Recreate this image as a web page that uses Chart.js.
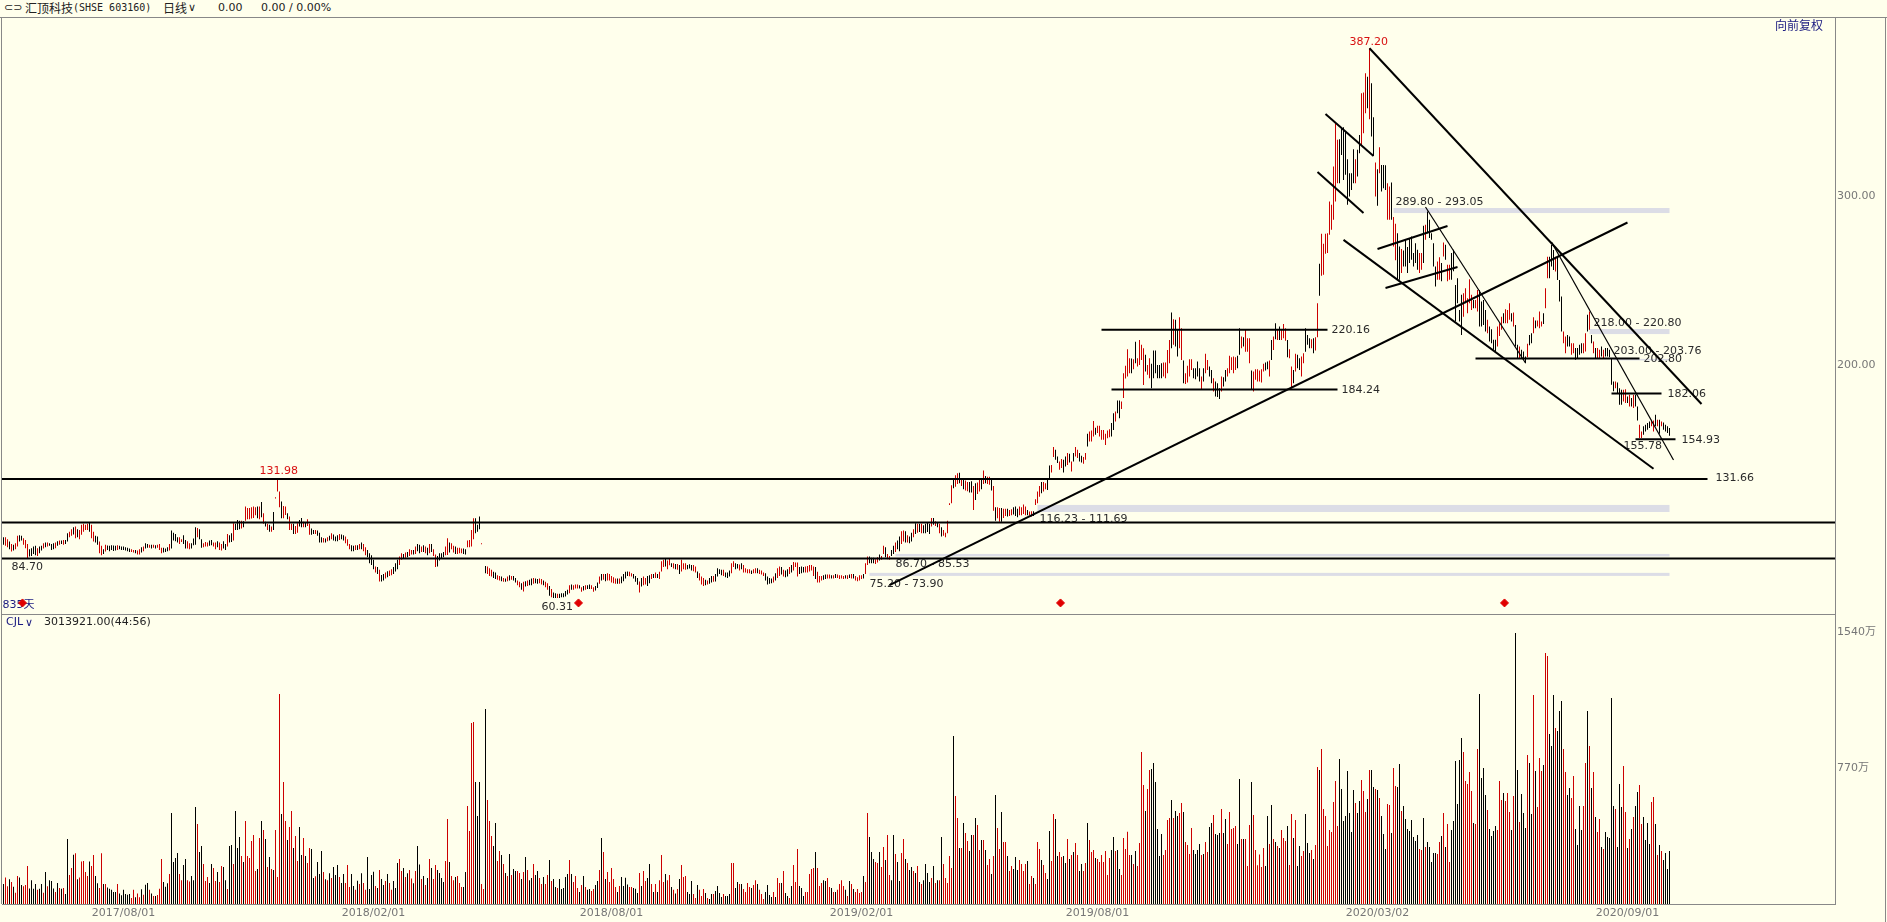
<!DOCTYPE html>
<html>
<head>
<meta charset="utf-8">
<title>汇顶科技</title>
<script src="https://cdn.jsdelivr.net/npm/chart.js@4/dist/chart.umd.min.js"></script>
<style>
  html, body { margin: 0; padding: 0; background: #ffffec; overflow: hidden; }
  #page { position: relative; width: 1887px; height: 922px; font-family: "DejaVu Sans", "Noto Sans CJK SC", sans-serif; font-size: 11px; color: #222; }
  #priceChart { position: absolute; left: 0; top: 17px; }
  #volumeChart { position: absolute; left: 0; top: 614px; }
  .rule { position: absolute; background: #888; }
  .text { position: absolute; white-space: pre; line-height: 14px; }
  .cjk { font-family: "Noto Sans CJK SC", sans-serif; font-size: 12px; }
  .navy { color: #1a1a80; }
</style>
</head>
<body>
<div id="page">
  <canvas id="priceChart" width="1887" height="597"></canvas>
  <canvas id="volumeChart" width="1887" height="308"></canvas>
  <div class="rule" style="left:0;top:17px;width:1887px;height:1px"></div>
  <div class="rule" style="left:1px;top:17px;width:1px;height:887px"></div>
  <div class="rule" style="left:1px;top:614px;width:1834px;height:1px"></div>
  <div class="rule" style="left:1885px;top:17px;width:1px;height:905px"></div>
  <div class="text" style="left:4px;top:1px">⊂⊃</div>
  <div class="text cjk" style="left:25px;top:1px">汇顶科技</div>
  <div class="text" style="left:73px;top:1px;font-size:10px;font-family:'DejaVu Sans Mono'">(SHSE 603160)</div>
  <div class="text cjk" style="left:163px;top:1px">日线</div>
  <div class="text" style="left:188px;top:1px">∨</div>
  <div class="text" style="left:218px;top:1px">0.00</div>
  <div class="text" style="left:261px;top:1px">0.00 / 0.00%</div>
  <div class="text cjk navy" style="left:1775px;top:18px">向前复权</div>
  <div class="text navy" style="left:6px;top:615px">CJL</div>
  <div class="text navy" style="left:25px;top:616px">∨</div>
  <div class="text" style="left:44px;top:615px">3013921.00(44:56)</div>
</div>
<script>
// daily highs and lows, one list per stretch of the chart
const highsA = [98.1,98.1,96.9,95.5,94.1,93.6,94.5,98.9,99.3,98.9,97.5,96.5,94.1,91,91.6,92.6,93,91.6,92.6,93,94.5,94.9,94.9,94.5,94.1,94.5,94.9,95.7,96.1,96.1,96.5,96.5,100.5,101.4,102.8,104,104.4,102.8,102.4,105.4,106,105.4,106,106.8,105.4,101.4,98.9,98.5,95.5,93,91,93.6,93.2,93,93.4,93.2,93,93.4,93,92.6,92.6,92.2,91.8,91.4,91,90.6,90.6,90.2,91,92.2,92.6,94.5,94.1,93.7,93.7,93.7,93.4,93.7,94.1,91.8,91.8,91.4,92.2,94.1,102,100.8,100,98.1,98.1,96.9,99.3,96.5,95.7,94.5,94.5,97.3,104,103.6,102.8,96.9,94.5,95.3,94.9,96.1,96.5,94.9,94.9,95.7,94.9,94.1,95.7,94.1,100,99.3,100.5,106.4,106,108.3,107.9,107.9,107.5,116.2,115.4,115.4,115.8,116.2,115.8,116.2,116.2,119,112.3,107.3,106,105.4,104.4,113,121.7,132.4,125.1,119.2,116.6,116.2,112.3,110.3,106,106,104.8,106.4,108.3,109.5,107.2,106.8,108.7,106,103.2,102.4,102.4,102,100.8,98.1,97.7,97.3,98.1,98.9,100.5,99.7,98.5,99.3,100,99.7,99.3,98.5,96.9,94.1,93.4,93,93.4,93.4,94.1,94.9,94.1,92.2,90.6,88.6,87.4,84.7,80.7,80.4,78.8,75.8,76.4,77.2,78,78.4,79.2,80.4,82.7,84.7,86.7,88.6,88.2,89,89.4,91,90.6,90.6,92.6,94.1,93.7,92.6,93.4,92.6,91.8,94.1,94.1,91,87.8,87,88.6,88.6,89.4,92.6,97.5,94.9,94.5,93,92.6,91.8,91.8,91.4,91.4,91,96.1,96.5,102.4,109.3,109.3,105.4,110.3,94.5,null,81.1,80.7,79.8,78.8,77.6,77.2,75.6,75.2,74.8,74,73.7,74.8,75.6,75.2,75.2,74,72.5,71.7,70.9,71.7,72.1,72.5,72.9,73.7,74,73.7,73.3,73.7,73.3,72.5,71.7,70.9,69.3,67.4,65.4,65,64.6,64.6,65,65,66.2,67,69.7,70.1,69.7,70.1,70.1,69.7,68.5,69.3,69.7,69.7,70.1,69.7,68.5,69.3,71.3,74.8,76.4,76.4,76.4,76.8,76.4,75.2,74.4,73.7,73.7,73.7,74.8,76.4,77.6,77.8,77.6];
const lowsA = [93.6,93,92.2,91,89.6,90.2,91,92.6,95.5,96.1,93.6,91.6,85.7,86.7,87,88.2,87.4,87,88.6,90.2,91.4,92.2,92.6,93,90.6,91,91.6,93,93.7,94.1,93.6,94.1,95.5,98.1,98.9,99.7,97.5,98.1,96.9,99.5,101.4,102.4,102.4,101.4,97.5,95.5,94.9,93.6,88.6,87.4,88.2,89.6,90.6,89.8,90.6,90,90.2,90.6,91,90.6,90.6,90.2,89.8,89.4,89.4,89,88.6,87.8,87.8,89,89.8,91.4,91.8,91.8,91.4,91.8,91.4,91.8,90.6,88.6,89,89.4,89.8,90.2,91.4,96.1,95.7,94.9,94.1,95.3,94.1,91.4,91.4,91,91.4,93.4,93.7,98.1,96.9,91.8,92.2,92.6,92.6,93,93.4,92.6,91,92.2,90.6,90.2,91.4,90.6,92.6,94.9,95.3,96.1,102.4,102.4,102.8,103.2,104,107.9,108.7,108.7,109.1,109.5,111.1,109.3,108.7,109.9,106,104.4,102.4,101.4,101.4,102.4,121,125.1,115.8,109.3,109.3,111.3,108.7,102.4,102.4,100,100,100.8,104.4,104,104,104,104.8,99.5,99.5,100,100,98.9,94.9,94.9,94.9,94.9,95.7,96.1,96.9,96.1,95.7,95.7,96.5,96.9,96.1,94.5,93,91,89.8,89.8,90.6,90.6,91,91,89.8,87.4,86.3,82.7,81.7,79.2,77.2,76.4,71.9,71.9,72.5,73.7,74.4,75.2,75.6,76.4,77.8,79.2,81.7,84.7,85.5,85.9,86.3,87,87.8,87.8,88.2,89.8,88.6,89.4,89.4,88.6,87.4,88.6,89.4,87,80.4,80.7,84.3,85.5,86.3,87.4,87.6,89,91,89,88.2,88.2,88.6,88.6,88.2,87.8,92.2,92.2,92.6,96.9,100.5,101.4,102.8,94,null,76.8,76.4,75.2,74.8,74,73.3,72.9,72.5,72.1,71.7,71.7,72.1,72.5,72.9,72.5,71.3,69.7,68.5,67,66,68.9,69.3,69.7,69.7,70.5,70.9,70.5,70.9,70.1,69.7,68.5,67,63.4,62.6,62.2,62.2,62.2,62.2,62.6,62.6,63,64.2,65,67,67,67.8,67.8,67.8,65.8,66.6,67,67.4,67.4,67.4,65.8,66.6,68.1,70.5,72.5,72.9,72.1,72.5,72.5,71.3,70.9,70.5,70.5,70.5,70.9,72.1,73.7,75.2,75];
const highsB = [76.8,76.4,75.2,73.9,71.9,74,74.8,74,75.2,75.6,76.4,76.4,77.2,76.4,77.6,83.9,84.7,85.5,84.3,85.5,82.7,82.7,82.3,82.3,81.7,84.7,82.7,82.7,81.7,82.1,81.7,81.7,80.7,77.8,76.8,74.8,74,72.9,72.5,73.9,75.2,75.2,76.4,79.8,79.2,78.8,78.8,77.2,77.2,78.4,82.7,83.9,82.7,82.3,81.9,82.7,81.7,79.8,79.2,79.2,78.4,79.2,79.8,79.8,78.8,78.4,77.2,76.8,74.8,73.9,73.7,74.8,76.8,79.8,80.7,80.4,78.8,78.4,79.2,80.4,81.7,83.5,83.1,83.1,80.4,80.7,80.4,80.7,81.1,81.7,81.7,80.7,80.4,77.6,75.2,75.2,75.6,76,76,76,75.6,75.6,76.4,76,75.6,75.6,75.2,75.6,75.6,76,76.4,76.4,75.2,74.4,75.6,75.6,76.4,82.7,86.7,86.7,85.9,85.9,85.1,86.3,87.8,87,93,92.2,88.2,87,90.6,93,94.9,96.1,98.5,101.6,102,101.6,99.3,98.5,100.8,102.8,106.4,106,106,106,105.2,106,106.8,106,109.5,109.5,107.5,106.8,106,104,102.4,100.8,107.9,118.2,128.8,132.8,134.7,135.9,136.3,132.4,132,131.6,130.8,130.8,131.2,128.4,130,130.4,132.4,133.2,137.5,134.3,133.9,133.9,132.8,128.4,115.8,115.8,115.4,115.4,115,115,115,114.2,114.6,115.8,116.2,115,116.2,115.8,117.4,116.2,114.2,113.3,113.5,113.5,120.6,125.1,128.4,130.8,130.8,130,133,140.6];
const lowsB = [74.8,73.7,71.7,69.9,65.4,68.9,69.7,70.1,69.3,70.9,73.3,74,74,74,73.3,77.8,80.4,80.7,79.2,81.5,80.4,79.6,79.2,78.8,76.4,77.8,79.2,78.8,79.2,79.6,78.4,78,77.2,73.9,72.5,70.1,69.3,69.7,70.1,70.5,71.3,71.7,71.9,74.8,76.4,75.6,75.2,74.4,73.9,74.8,76.8,80.4,79.2,79.6,78.4,79.2,77.2,77.2,76.8,76.8,76.4,76.8,76.8,76.8,76.4,76,75.2,72.5,70.1,70.5,70.9,71.3,72.5,73.9,75.2,76,74.8,74.4,74.8,76.4,77.2,78.4,80.4,74.8,76.4,76.8,77.2,77.2,77.2,77.8,78.4,75.2,73.3,71.3,71.3,72.5,72.9,73.3,73.7,73.7,73.7,73.7,74,74,73.3,73.7,73.3,73.7,73.3,74,73.7,73.7,72.5,72.1,72.5,73.3,73.7,76.4,81.7,82.7,82.7,82.7,82.3,83.1,84.3,84.7,88.2,86.3,85.1,84.7,87,88.2,89.4,91,89.8,94.1,95.5,94.9,94.9,94.5,95.5,98.1,100,100.8,101.2,100.5,100.5,100.5,101.2,100,104.4,105.4,104.8,104,100.5,98.5,98.9,98.1,100.5,117.2,118.2,127,128,129.6,130,128.4,126.5,125.7,125.3,124.5,124.5,114.2,120.1,123.7,125.1,126.5,129.6,130,129.6,129.2,125.7,113.8,107.9,109.3,107.3,107.3,109.5,110.7,110.3,110.7,111.1,111.5,110.7,109.9,111.1,111.1,111.9,111.1,111.1,111.1,110.3,110.7,117.2,118.2,122.1,124.1,125.1,126.5,126.1,132];
const highsC = [140.8,151.4,149.8,145.9,142.9,144.3,143.9,145.9,147.9,147.5,142.9,147.9,151.4,149.8,147.9,146.3,145.5,147.9,159.3,160.7,161.3,166.8,162.8,164,164,161.6,161.6,159.3,161.3,162,165.6,171.5,172.5,179,179,178.4,195.1,199.5,209.3,204,203.8,203.4,213.7,204,214.8,211.9,209.9,206,200,204,200.7,208.5,208.5,200,200,201,201.4,201.4,208.9,214.8,231,227,226.7,220.8,228.2,221.7,202.6,195.1,199.5,203.4,203.4,198.1,198.1,202,198.1,193.2,198.1,206.6,203,199.1,197.1,192.2,190.2,189.2,186.3,193.2,192.8,197.1,198.1,205.4,204.6,205,204.6,205.4,221.7,216.8,216.4,220.8,215.8,215.8,196.7,196.1,197.5,197.5,196.7,197.5,200.7,201.4,202,202.6,214.8,216.8,224.7,220.8,222.7,220.8,224.3,221.7,214.8,209.3,199.1,197.1,206.6,206,204,205,207,221.7,217.8,215.8,215.2,215.8,216.4,236.5];
const lowsC = [136.4,145.5,143.9,142,138,139,136.4,140,140.8,142.3,137,142.9,145.9,144.9,142.9,142.3,141.6,143.9,151.8,154.8,154.8,157.7,158.7,159.7,157.7,155.7,155.7,152.6,156.7,157.3,157.7,161.6,166.6,171.5,168.5,173.9,180.4,192,193.2,195.1,195.1,197.5,201,199.1,200,203,188.2,196.1,194.2,192.2,186.3,192.2,195.1,192.2,192.2,192.2,193.2,192.2,195.1,201,209.9,211.9,210.9,205,209.9,203,189.2,188.8,189.6,193.2,197.1,192.2,191.6,193.2,190.2,185.3,190.2,195.1,197.1,193.2,189.2,184.3,181.3,181,179.8,184.3,187.3,190.2,193.2,195.1,197.1,195.1,197.1,198.1,206,209.9,210.9,207.9,207.9,201,185.3,184.3,191.2,190.2,190.2,189.6,196.1,196.7,197.5,193.2,203,208.9,215.2,214.8,214.8,214.8,215.8,214.4,204.6,204,186.3,189.2,196.1,198.1,197.1,193.2,201,207.9,211.9,209.9,209.9,207,208.5,216.4];
const highsD = [259.9,277.6,271.7,277.6,278,296.7,294.8,317.4,343,333.2,333.6,340.1,340.7,338.1,321.8,313.5,313.5,327.7,321.8,327.3,336.1,360.8,361.2,372.6,370.6,387.4,366.7,346.6,319.8,315.8,328.8,318.4,318.4,318.2,307.6,305.6,308,287.5,283.5,278,270.1,268.6,267.8,274.1,269.8,275,276,266.2,272.1,268.2,266.2,266.2,282.4,283,290.8,285.9,278,272.1,258.3,261.3,263.8,260.3,272.5,271.1,259.3,259.3,266.2,268.2];
const lowsD = [241,252.8,253.4,265.8,266.2,277,280,285.9,296.7,307.6,307.6,324.3,309.5,312.5,294.8,299.7,303.6,307.6,307.6,311.5,325.3,330.2,337.1,349,351.9,345.4,335.2,323.7,299.7,294.2,313.5,302.6,304.6,303.6,285.9,285.9,285.9,270.1,261.9,250.4,250.4,254.4,258.3,258.3,254.4,260.3,262.3,258.3,260.3,256.3,254.4,256.3,260.3,274.1,278,275.1,274.1,258.3,246.5,250.4,250.4,249.5,264.2,262.3,249.5,250.4,250.4,255.4];
const highsE = [247.4,251.3,232.6,241.5,242.4,245.4,239.5,250.7,241.5,238.5,238.5,244.4,244.4,237.5,238.5,232.6,226.7,222.7,221.2,214.9,214.9,222.7,224.7,228.6,230.6,233,232.6,236.5,230.6,231,223.7,211.9,210.9,209,208,205,212.5,217.8,218.8,228.3,226.3,226.3,231.6,225.7,230.6,245.4,264.1,264.1,271,268,264.1,264.1,250.3,240.5,219.8,216.8,217.8,216.8];
const lowsE = [225.7,236.5,225.7,217.8,228.6,236.5,230.6,236.5,232.6,233.6,233.6,231.6,222.7,222.7,223.7,219.8,218.8,213.9,212.9,209,208,210.9,217.2,220.8,224.7,224.7,224.7,226.7,225.7,222.7,210.9,204,204,204,203,201.1,204.6,211.7,212.9,218.8,221.8,222.7,221.8,222.7,224.3,233.6,251.3,251.3,258.2,256.2,255.3,250.3,237.5,219.8,212.9,207,210.9,210.9];
const highsF = [212.9,212.9,210,210,211.9,212.9,212.9,218.8,229.7,231.6,217.8,213.9,210,210,209,211,209,210,210,209,203.5,190.3,190.3,189.7,186.3,185.3,185.3,185.7,181.4,182.4,180.4,182.4,182.4,175.5,164.7,160.7,163.7,164.7,165.6,166.6,167.6,167.2,170.6,167.6,167.6,166.6,166,164.7,163.7,162.7];
const lowsF = [206,207,203.1,204.1,206,207,207,208,219.8,220.8,212.9,207,204.1,204.1,204.1,205,204.1,205,205,204.6,188.3,184.4,186.3,183.4,176.5,176.5,178.4,177.5,177.5,175.5,175.5,174.5,175.5,167.2,156.8,156.8,158.7,160.7,161.7,162.7,163.7,160.7,163.7,163.7,159.3,163.7,161.7,160.7,159.7,158.2];
const priceStarts = [0, 314, 524, 658, 726, 784];

// volume in 万 shares
const volumesA = [113,150,100,140,125,98,64,158,150,107,100,107,215,88,135,86,113,80,86,113,64,181,100,135,130,88,68,119,90,86,90,56,368,164,204,279,287,140,150,240,243,181,158,240,215,277,158,117,90,287,113,113,94,86,80,68,68,113,60,49,80,56,53,56,34,80,38,60,38,83,53,109,119,80,60,45,45,51,86,255,125,98,117,170,515,238,260,289,170,135,221,255,135,128,158,135,549,453,294,328,226,130,153,119,226,204,130,181,125,215,209,135,85,328,334,226,526,317,379,272,238,470,272,260,357,390,187,198,374,470,419,368,209,266,198,192,419,153,1189,510,691,470,362,436,526,317,385,243,436,277,374,272,232,317,311,147,157,238,170,300,181,140,135,174,147,209,164,221,153,119,170,119,221,96,170,102,80,132,113,174,119,80,266,85,164,183,102,90,192,142,107,130,170,119,80,130,90,232,255,187,204,153,174,192,145,117,187,328,224,142,158,107,147,255,204,142,221,192,175,147,125,243,481,238,158,135,153,158,119,96,96,181,555,413,1025,1030,691,498,691,113,85,1104,589,470,385,328,459,243,300,277,226,175,158,283,164,198,187,187,175,142,181,266,192,135,147,226,164,187,147,113,153,113,164,249,130,142,96,90,142,85,90,153,170,249,170,125,158,90,68,107,158,96,80,85,74,85,107,130,192,374,294,142,181,125,204,142,96,68,102,153,102,149,110,96];
const volumesB = [96,90,86,62,175,102,187,130,147,226,113,68,113,68,135,277,125,170,135,164,96,80,60,85,142,221,153,158,68,56,130,56,34,107,80,45,85,62,34,28,56,56,74,102,62,40,56,45,45,56,232,232,90,125,113,113,85,68,119,96,90,107,135,113,80,56,28,68,107,51,40,68,40,147,119,119,187,62,45,34,102,221,125,311,102,90,45,68,68,170,198,204,294,204,102,119,135,130,147,96,90,68,68,80,113,135,102,80,45,130,113,85,68,85,62,68,158,125,515,379,294,255,238,232,294,209,323,249,390,164,135,390,283,238,130,289,368,255,232,192,209,187,175,215,125,113,135,226,175,125,147,215,119,135,135,379,226,147,119,272,204,951,611,487,317,317,459,402,357,300,390,390,487,447,306,362,362,306,221,255,170,272,617,430,311,521,351,351,272,187,215,198,266,192,249,226,187,226,243,113,158,147,113,351,311,249,221,175,142,413,243,510,481,272,294,266,272,232,368,255,277,294,345,277,187,226,187,232,459,362,294,306,260,255,238,277,238,300,164,260,306,379,300,306,198,164,374,311,409,277,277,226,300,215,345,860,674,526,651,759,764,798,691,425,272,396,277,306,476,487,589,487,526,498,515,572,521,351,334,283,430,306,283,306,340,277,283,351,294,436,459,504,396,390,402,538,402,481,340,521,425,430,442,340,708,368,368,368,215,447,691,504,306,219,280];
const volumesC = [209,317,215,498,340,560,368,351,328,317,419,374,357,442,221,510,374,476,215,328,272,300,510,345,289,306,255,334,776,759,877,538,498,328,419,408,577,696,442,821,651,470,498,753,515,408,645,572,515,583,702,640,521,594,759,759,662,651,645,600,498,396,311,566,560,402,770,668,662,793,526,555,481,425,413,476,379,357,390,311,306,487,323,351,323,238,289,289,283,351,385,515,323,453,238,419,470,810,566,815,940,860,696,679,747,640,459,453,877,1189,713,770,617,532,425,385,413,442,419,696,589,628,583,628,521,419,611,1534,759,464,623,515,430,843,798,510,1183,753,549,826,753,787,1421,1404,962,894,1183,996,979,1093,1149,877,747,617,657,600,725,425,334,555,419,555,798,1093,894,657,747,492,408,481,323,311,408,379,374,1166,555,538,323,679,549,781,521,317,368,425,492,555,634,674,453,492,362,459,340,577,606,453,277,334,300,249,289,198,300];
const volumeStarts = [0, 314, 629];

// 1 = closed up, 0 = closed down
const closedUp = (
  '01101011001110000100101000101010011010111110110011' +
  '01000001000000110110100101011100010000110011000100' +
  '11100110110010010001011111101010101011101101101100' +
  '10110010001010100010011100101011000010100101100011' +
  '01011010010101011000011011011100111100011011100110' +
  '10101001101010010011011010010000010111010100110010' +
  '10111110100001100010110010101110110101011100011011' +
  '10100100001000110010111101101110000101101001011100' +
  '01111101110011010111101010111101100011011011001001' +
  '10100101010000101010111110110101100101101011010110' +
  '11011000111101101110110011001100101011001101110111' +
  '11110010011111010111101100000011110100110111100001' +
  '01100100010011111001011101111110010101011101101001' +
  '10001011011111111100000000100111010010100011011001' +
  '00000000110100000110101100000011111011000010000111' +
  '01110100100010010111011000100011001100001101010110' +
  '10000010001101010011000011010100'
).split('');

const priceTicks = [300, 200];
const volumeTicks = [1540, 770];
const dateTickIndexes = [60, 185, 304, 429, 547, 687, 812];
const dateTickLabels = ['2017/08/01', '2018/02/01', '2018/08/01', '2019/02/01', '2019/08/01', '2020/03/02', '2020/09/01'];

// drawn levels: [from bar, to bar, price]
const levelLines = [
  [-1, 852, 132.6],
  [-1, 916, 106.8],
  [-1, 916, 85.5],
  [549, 662, 220.9],
  [554, 667, 185.5],
  [736, 818, 203.9],
  [804, 829, 183.2],
  [816, 836, 156],
];
// trend lines: [from bar, from price, to bar, to price]
const trendLines = [
  [443, 69.8, 812, 284.3],
  [683, 387.4, 849, 176.9],
  [670, 274, 825, 138.6],
  [661, 348.5, 685, 323.7],
  [657, 314.2, 680, 289.9],
  [687, 268.6, 722, 282.2],
  [691, 245.6, 727, 258],
];
const thinTrendLines = [
  [711, 293.5, 761, 201.2],
  [774, 272.8, 835, 143.8],
];
// price zones: [from bar, lower, upper]
const zones = [
  [695, 289.9, 292.9],
  [793, 218.3, 221.3],
  [805, 202.7, 203.6],
  [517, 113, 117.2],
  [446, 86.7, 88.2],
  [433, 75.2, 77],
];
const signalBars = [9.5, 287.5, 528.5, 750.5];
const signalPrice = 59.2;

// notes on the price pane: [bar, price, text]
const blackNotes = [
  [856, 133.1, '131.66'], [664, 220.9, '220.16'], [669, 185.4, '184.24'],
  [820, 203.3, '202.80'], [832, 183, '182.06'], [839, 155.8, '154.93'],
  [810, 151.7, '155.78'], [4, 80.5, '84.70'], [269, 56.8, '60.31'],
  [518, 108.9, '116.23 - 111.69'], [446, 82.2, '86.70 - 85.53'], [433, 70.4, '75.20 - 73.90'],
  [696, 296.4, '289.80 - 293.05'], [795, 224.9, '218.00 - 220.80'], [805, 208.3, '203.00 - 203.76'],
];
const redNotes = [[128, 137.3, '131.98'], [673, 391.1, '387.20']];
const dayCountNote = [-0.5, 58, '835天'];

const UP_COLOR = '#cc0000';
const DOWN_COLOR = '#000000';
const AXIS_TEXT = '#777777';
const FONT = '"DejaVu Sans", "Noto Sans CJK SC", sans-serif';

const barCount = 834;
const highs = new Array(barCount).fill(null);
const lows = new Array(barCount).fill(null);
const volumes = new Array(barCount).fill(null);

const place = (target, start, values) => values.forEach((v, k) => { target[start + k] = v; });
[highsA, highsB, highsC, highsD, highsE, highsF].forEach((s, k) => place(highs, priceStarts[k], s));
[lowsA, lowsB, lowsC, lowsD, lowsE, lowsF].forEach((s, k) => place(lows, priceStarts[k], s));
[volumesA, volumesB, volumesC].forEach((s, k) => place(volumes, volumeStarts[k], s));

const barColor = ctx => (closedUp[ctx.raw.x] === '1' ? UP_COLOR : DOWN_COLOR);

// the layout reserves room for half a tick label at each end, we don't want that
const dropPadding = scale => {
  scale.paddingTop = 0;
  scale.paddingBottom = 0;
  scale.paddingLeft = 0;
  scale.paddingRight = 0;
};

// one pixel wide sticks, 2px apart
const xScale = display => ({
  type: 'linear',
  min: -0.75,
  max: 915.75,
  display,
  offset: false,
  grid: { display: false, drawTicks: false },
  border: { display: display, color: '#888888' },
});

const yScale = (min, max, ticks, format) => ({
  position: 'right',
  min,
  max,
  grid: { display: false, drawTicks: false },
  border: { display: true, color: '#888888' },
  afterFit: scale => { scale.width = 52; dropPadding(scale); },
  afterBuildTicks: scale => { scale.ticks = ticks.map(value => ({ value })); },
  ticks: { color: AXIS_TEXT, font: { family: FONT, size: 11 }, padding: 2, callback: format },
});

const lineDataset = (points, width) => ({
  type: 'line',
  data: points,
  borderColor: '#000000',
  borderWidth: width,
  pointRadius: 0,
  order: 0,
});

const priceNotesPlugin = {
  id: 'priceNotes',
  beforeDatasetsDraw(chart) {
    const { ctx, scales: { x, y } } = chart;
    ctx.save();
    ctx.fillStyle = '#dcdde6';
    zones.forEach(([from, lower, upper]) => {
      const top = y.getPixelForValue(upper);
      ctx.fillRect(x.getPixelForValue(from), top, x.getPixelForValue(barCount - 1) - x.getPixelForValue(from), y.getPixelForValue(lower) - top);
    });
    ctx.font = '11px ' + FONT;
    ctx.textBaseline = 'middle';
    const write = (notes, color) => {
      ctx.fillStyle = color;
      notes.forEach(([bar, price, text]) => ctx.fillText(text, x.getPixelForValue(bar), y.getPixelForValue(price)));
    };
    write(blackNotes, '#2a2a2a');
    write(redNotes, '#d81010');
    write([dayCountNote], '#1a1a80');
    ctx.restore();
  },
};

new Chart(document.getElementById('priceChart').getContext('2d'), {
  type: 'bar',
  data: {
    datasets: [
      {
        data: highs.map((h, i) => ({ x: i, y: h === null || lows[i] === null ? null : [lows[i], h] })),
        backgroundColor: barColor,
        barThickness: 1,
        inflateAmount: 0,
        order: 2,
      },
      ...levelLines.map(([from, to, price]) => lineDataset([{ x: from, y: price }, { x: to, y: price }], 2)),
      ...trendLines.map(([a, pa, b, pb]) => lineDataset([{ x: a, y: pa }, { x: b, y: pb }], 2)),
      ...thinTrendLines.map(([a, pa, b, pb]) => lineDataset([{ x: a, y: pa }, { x: b, y: pb }], 1.2)),
      {
        type: 'scatter',
        data: signalBars.map(x => ({ x, y: signalPrice })),
        pointStyle: 'rectRot',
        pointRadius: 4,
        backgroundColor: '#e00000',
        borderColor: '#e00000',
        order: 0,
      },
    ],
  },
  options: {
    responsive: false,
    animation: false,
    devicePixelRatio: 1,
    layout: { padding: { left: 2 }, autoPadding: false },
    plugins: { legend: { display: false }, tooltip: { enabled: false } },
    scales: {
      x: { ...xScale(false), afterFit: dropPadding },
      y: yScale(52.66, 405.9, priceTicks, v => v.toFixed(2)),
    },
  },
  plugins: [priceNotesPlugin],
});

new Chart(document.getElementById('volumeChart').getContext('2d'), {
  type: 'bar',
  data: {
    datasets: [{
      data: volumes.map((v, i) => ({ x: i, y: v })),
      backgroundColor: barColor,
      barThickness: 1,
      inflateAmount: 0,
    }],
  },
  options: {
    responsive: false,
    animation: false,
    devicePixelRatio: 1,
    layout: { padding: { left: 2 }, autoPadding: false },
    plugins: { legend: { display: false }, tooltip: { enabled: false } },
    scales: {
      x: {
        ...xScale(true),
        afterFit: scale => { scale.height = 18; dropPadding(scale); },
        afterBuildTicks: scale => { scale.ticks = dateTickIndexes.map(value => ({ value })); },
        ticks: {
          color: AXIS_TEXT,
          font: { family: FONT, size: 11 },
          padding: 3,
          autoSkip: false,
          maxRotation: 0,
          callback: v => dateTickLabels[dateTickIndexes.indexOf(v)],
        },
      },
      y: yScale(0, 1642, volumeTicks, v => v + '万'),
    },
  },
});
</script>
</body>
</html>
